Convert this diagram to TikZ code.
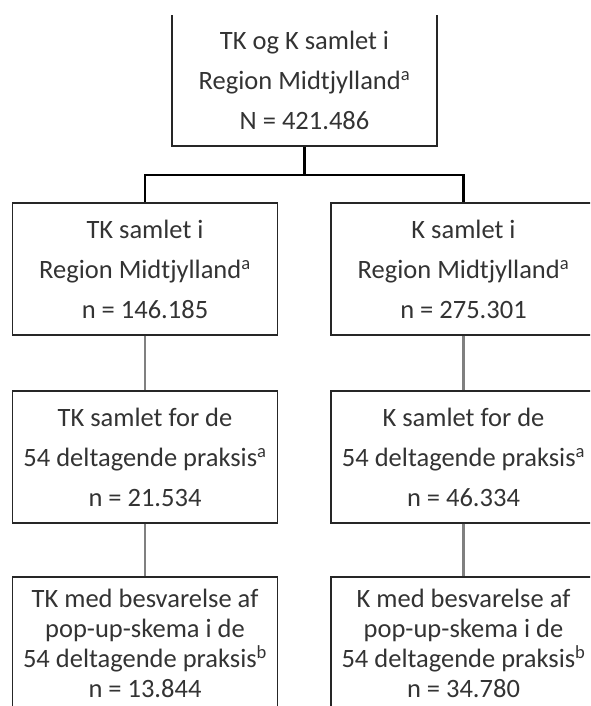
\documentclass[tikz,border=0pt]{standalone}
\usepackage{fontspec}
\setmainfont{Carlito}
\usepackage{tikz}
\usetikzlibrary{calc,positioning}

\begin{document}
\begin{tikzpicture}[x=1pt,y=-1pt,
  box/.style={draw=black!85, line width=1.2pt, minimum width=265pt, minimum height=132pt,
    inner sep=0pt, align=center, text=black!80},
  fork/.style={black, line width=2.6pt},
  link/.style={black!50, line width=2.8pt}]
\useasboundingbox (0,0) rectangle (590,706);
\clip (0,15.5) rectangle (590,706);
% rettangoli
\node[box, font=\fontsize{26.5}{40}\selectfont] (top) at (304.5,80)
  {TK og K samlet i\\Region Midtjylland\textsuperscript{a}\\N = 421.486};
\node[box, font=\fontsize{26.5}{40}\selectfont] (tkreg) at (145,269)
  {TK samlet i\\Region Midtjylland\textsuperscript{a}\\n = 146.185};
\node[box, font=\fontsize{26.5}{40}\selectfont] (kreg) at (463.5,269)
  {K samlet i\\Region Midtjylland\textsuperscript{a}\\n = 275.301};
\node[box, font=\fontsize{26.5}{40}\selectfont] (tkprak) at (145,457)
  {TK samlet for de\\54 deltagende praksis\textsuperscript{a}\\n = 21.534};
\node[box, font=\fontsize{26.5}{40}\selectfont] (kprak) at (463.5,457)
  {K samlet for de\\54 deltagende praksis\textsuperscript{a}\\n = 46.334};
\node[box, font=\fontsize{26.5}{30}\selectfont] (tkpop) at (145,643)
  {TK med besvarelse af\\pop-up-skema i de\\54 deltagende praksis\textsuperscript{b}\\n = 13.844};
\node[box, font=\fontsize{26.5}{30}\selectfont] (kpop) at (463.5,643)
  {K med besvarelse af\\pop-up-skema i de\\54 deltagende praksis\textsuperscript{b}\\n = 34.780};
% diramazione
\coordinate (split) at (304.5,175);
\draw[fork] (top.south) -- (split);
\draw[fork] (tkreg.north) |- (split) -| (kreg.north);
% collegamenti grigi
\foreach \a/\b in {tkreg/tkprak, tkprak/tkpop, kreg/kprak, kprak/kpop}{
  \draw[link] (\a.south) -- (\b.north);
}
\end{tikzpicture}
\end{document}
